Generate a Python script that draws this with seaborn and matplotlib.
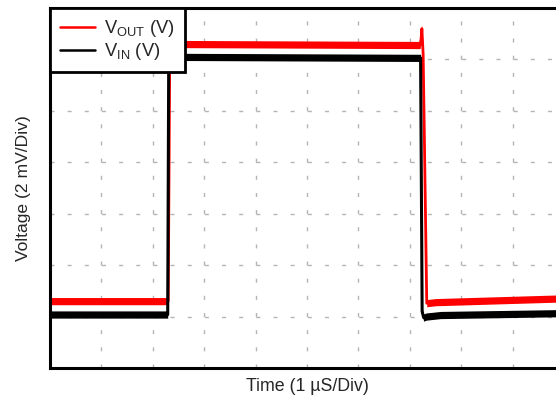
import matplotlib
matplotlib.use("Agg")
import matplotlib.pyplot as plt
import seaborn as sns
import pandas as pd
from matplotlib.lines import Line2D

# ---- data (time in divisions, voltage in divisions) ----
time_in = [0.0, 2.29, 2.31, 7.21, 7.24, 7.27, 7.32, 7.6, 10.2]
v_in = [1.04, 1.04, 6.05, 6.03, 1.10, 0.98, 1.00, 1.03, 1.07]

time_out = [0.0, 2.30, 2.33, 2.36, 7.20, 7.22, 7.235, 7.26, 7.33, 7.5, 10.2]
v_out = [1.30, 1.30, 6.20, 6.30, 6.28, 6.40, 6.60, 6.10, 1.26, 1.28, 1.36]

series_labels = [r"V$_\mathregular{OUT}$ (V)", r"V$_\mathregular{IN}$ (V)"]
x_label = "Time (1 µS/Div)"
y_label = "Voltage (2 mV/Div)"

noise_half = 0.07  # half-height of the noisy trace band (divisions)

df_in = pd.DataFrame({"t": time_in, "v": v_in})
df_out = pd.DataFrame({"t": time_out, "v": v_out})

sns.set_style("white")
plt.rcParams["font.family"] = ["Liberation Sans", "DejaVu Sans"]
plt.rcParams["mathtext.fontset"] = "custom"
plt.rcParams["mathtext.rm"] = "Liberation Sans"
plt.rcParams["mathtext.it"] = "Liberation Sans:italic"

fig = plt.figure(figsize=(5.56, 4.0), dpi=100)
ax = fig.add_axes([50 / 556, 32 / 400, 514 / 556, 360 / 400])

# red trace (V_OUT) below, black (V_IN) on top
ax.fill_between(df_out["t"], df_out["v"] - noise_half, df_out["v"] + noise_half,
                color="#ff0000", lw=0, zorder=2)
sns.lineplot(data=df_out, x="t", y="v", ax=ax, color="#ff0000", lw=2.0,
             estimator=None, sort=False, zorder=2)
ax.fill_between(df_in["t"], df_in["v"] - noise_half, df_in["v"] + noise_half,
                color="black", lw=0, zorder=3)
sns.lineplot(data=df_in, x="t", y="v", ax=ax, color="black", lw=2.2,
             estimator=None, sort=False, zorder=3)

ax.set_xlim(0, 10)
ax.set_ylim(0, 7)
ax.set_xticks(range(0, 11))
ax.set_yticks(range(0, 8))
ax.set_xticklabels([])
ax.set_yticklabels([])
ax.tick_params(length=0)
ax.grid(True, color="#b4b4b4", linestyle=(0, (2.9, 9.45)), linewidth=1)
ax.set_axisbelow(True)

for s in ["left", "bottom", "top"]:
    ax.spines[s].set_color("black")
    ax.spines[s].set_linewidth(2.2)
ax.spines["right"].set_visible(False)

ax.set_xlabel(x_label, fontsize=12.8, labelpad=4)
ax.set_ylabel(y_label, fontsize=12.6, labelpad=10)

handles = [Line2D([], [], color="#ff0000", lw=1.8),
           Line2D([], [], color="black", lw=1.8)]
leg = ax.legend(handles, series_labels, loc="upper left", bbox_to_anchor=(0, 1),
                borderaxespad=0, fancybox=False, framealpha=1, edgecolor="black",
                fontsize=13.2, handlelength=1.9, handletextpad=0.5,
                labelspacing=0.12, borderpad=0.55)
leg.get_frame().set_linewidth(2.0)
leg.set_zorder(10)

fig.savefig("out.png", dpi=100)
